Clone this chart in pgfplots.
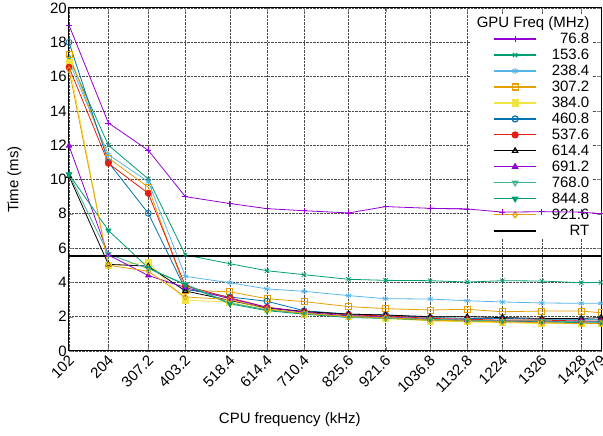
\documentclass[border=0pt]{standalone}
\usepackage{pgfplots}
\pgfplotsset{compat=1.18}
\usetikzlibrary{calc}
\usepackage{fontspec}
\setmainfont{Liberation Sans}
\definecolor{cA}{HTML}{9400D3}
\definecolor{cB}{HTML}{009E73}
\definecolor{cC}{HTML}{56B4E9}
\definecolor{cD}{HTML}{E69F00}
\definecolor{cE}{HTML}{F0E442}
\definecolor{cF}{HTML}{0072B2}
\definecolor{cG}{HTML}{E51E10}
\definecolor{cH}{HTML}{3FB391}
\begin{document}
\begin{tikzpicture}
\begin{axis}[
  name=ax,
  scale only axis,
  width=532pt, height=343pt,
  xmin=102, xmax=1479, ymin=0, ymax=20,
  xtick={102,204,307.2,403.2,518.4,614.4,710.4,825.6,921.6,1036.8,1132.8,1224,1326,1428,1479},
  xticklabels={102,204,307.2,403.2,518.4,614.4,710.4,825.6,921.6,1036.8,1132.8,1224,1326,1428,1479},
  ytick={0,2,...,20},
  font=\fontsize{15}{17}\selectfont,
  /pgf/number format/assume math mode=true,
  xticklabel style={rotate=45, anchor=north east, inner sep=1pt, xshift=-2pt},
  yticklabel style={inner sep=2pt},
  tick align=inside,
  major tick length=4pt,
  axis line style={line width=1pt},
  grid=major,
  major grid style={densely dotted, black!70, line width=0.6pt},
  xlabel={CPU frequency (kHz)},
  ylabel={Time (ms)},
  xlabel style={at={(axis description cs:0.415,0)}, anchor=north, yshift=-58pt},
  ylabel style={at={(axis description cs:0,0.5)}, anchor=south, yshift=44pt},
  every axis plot/.append style={line width=0.8pt, mark size=3pt},
  legend style={at={(1,1)}, anchor=north east, xshift=-9pt, yshift=-6pt,
    draw=none, fill=white, inner sep=1pt,
    font=\fontsize{15}{15}\selectfont, row sep=1pt,
    nodes={inner sep=1.5pt}},
  legend cell align=right,
  legend image code/.code={\path (-0.75cm,0cm); \draw[mark repeat=2,mark phase=2] plot coordinates {(0cm,0cm) (0.75cm,0cm) (1.5cm,0cm)};\path (1.95cm,0cm);},
  legend image post style={line width=1.2pt},
  clip=false,
]
\addlegendimage{empty legend}\addlegendentry{\makebox[0pt][r]{GPU Freq (MHz)}}
\addplot[cA, mark=+] coordinates {(102,19.0)(204,13.3)(307.2,11.7)(403.2,9.0)(518.4,8.6)(614.4,8.3)(710.4,8.18)(825.6,8.05)(921.6,8.42)(1036.8,8.32)(1132.8,8.28)(1224,8.1)(1326,8.12)(1428,8.1)(1479,8.0)};
\addlegendentry{76.8}
\addplot[cB, mark=x] coordinates {(102,17.1)(204,12.0)(307.2,10.03)(403.2,5.6)(518.4,5.09)(614.4,4.68)(710.4,4.45)(825.6,4.18)(921.6,4.12)(1036.8,4.1)(1132.8,4.02)(1224,4.1)(1326,4.08)(1428,3.98)(1479,4.0)};
\addlegendentry{153.6}
\addplot[cC, mark=asterisk] coordinates {(102,16.9)(204,11.45)(307.2,9.87)(403.2,4.35)(518.4,3.98)(614.4,3.62)(710.4,3.48)(825.6,3.23)(921.6,3.05)(1036.8,3.03)(1132.8,2.93)(1224,2.86)(1326,2.8)(1428,2.78)(1479,2.78)};
\addlegendentry{238.4}
\addplot[cD, mark=square] coordinates {(102,17.3)(204,11.25)(307.2,9.55)(403.2,3.55)(518.4,3.45)(614.4,3.05)(710.4,2.88)(825.6,2.59)(921.6,2.47)(1036.8,2.39)(1132.8,2.43)(1224,2.29)(1326,2.33)(1428,2.33)(1479,2.23)};
\addlegendentry{307.2}
\addplot[cE, mark=square*] coordinates {(102,16.8)(204,5.0)(307.2,5.17)(403.2,2.97)(518.4,2.85)(614.4,2.4)(710.4,2.15)(825.6,2.0)(921.6,1.9)(1036.8,1.75)(1132.8,1.7)(1224,1.65)(1326,1.6)(1428,1.6)(1479,1.6)};
\addlegendentry{384.0}
\addplot[cF, mark=o] coordinates {(102,18.0)(204,11.0)(307.2,8.03)(403.2,3.6)(518.4,3.15)(614.4,2.9)(710.4,2.35)(825.6,2.15)(921.6,2.1)(1036.8,1.95)(1132.8,1.9)(1224,1.9)(1326,1.85)(1428,1.85)(1479,1.85)};
\addlegendentry{460.8}
\addplot[cG, mark=*] coordinates {(102,16.55)(204,10.94)(307.2,9.19)(403.2,3.8)(518.4,3.1)(614.4,2.55)(710.4,2.3)(825.6,2.1)(921.6,2.05)(1036.8,1.9)(1132.8,1.85)(1224,1.8)(1326,1.8)(1428,1.75)(1479,1.75)};
\addlegendentry{537.6}
\addplot[black, mark=triangle] coordinates {(102,10.2)(204,5.05)(307.2,4.95)(403.2,3.5)(518.4,2.95)(614.4,2.5)(710.4,2.3)(825.6,2.15)(921.6,2.1)(1036.8,2.0)(1132.8,2.0)(1224,1.95)(1326,1.9)(1428,1.9)(1479,1.95)};
\addlegendentry{614.4}
\addplot[cA, mark=triangle*] coordinates {(102,11.97)(204,5.6)(307.2,4.4)(403.2,3.7)(518.4,3.05)(614.4,2.55)(710.4,2.25)(825.6,2.05)(921.6,2.0)(1036.8,1.85)(1132.8,1.8)(1224,1.75)(1326,1.7)(1428,1.75)(1479,1.7)};
\addlegendentry{691.2}
\addplot[cH, mark=triangle, mark options={rotate=180}] coordinates {(102,10.3)(204,5.65)(307.2,4.8)(403.2,3.9)(518.4,2.8)(614.4,2.4)(710.4,2.2)(825.6,2.0)(921.6,1.95)(1036.8,1.85)(1132.8,1.8)(1224,1.75)(1326,1.75)(1428,1.7)(1479,1.7)};
\addlegendentry{768.0}
\addplot[cB, mark=triangle*, mark options={rotate=180}] coordinates {(102,10.3)(204,7.03)(307.2,4.85)(403.2,3.85)(518.4,2.75)(614.4,2.35)(710.4,2.15)(825.6,1.95)(921.6,1.9)(1036.8,1.8)(1132.8,1.75)(1224,1.7)(1326,1.7)(1428,1.65)(1479,1.65)};
\addlegendentry{844.8}
\addplot[cD, mark=diamond] coordinates {(102,16.4)(204,5.0)(307.2,4.65)(403.2,3.15)(518.4,3.0)(614.4,2.45)(710.4,2.2)(825.6,2.0)(921.6,1.95)(1036.8,1.8)(1132.8,1.75)(1224,1.7)(1326,1.65)(1428,1.6)(1479,1.6)};
\addlegendentry{921.6}
\addplot[black, line width=1.6pt, mark=none, legend image post style={line width=2pt}] coordinates {(102,5.55)(1479,5.55)};
\addlegendentry{RT}
\end{axis}
\begin{axis}[
  scale only axis,
  width=532pt, height=343pt,
  xmin=102, xmax=1479, ymin=0, ymax=20,
  axis lines=none, ticks=none,
  every axis plot/.append style={line width=0.8pt, mark size=3pt},
]
\addplot[cA, mark=+] coordinates {(1036.8,8.32)(1132.8,8.28)(1224,8.1)(1326,8.12)(1428,8.1)(1479,8.0)};
\end{axis}
\pgfresetboundingbox
\path (ax.south west) ++(-69pt,-85pt) rectangle ($(ax.north east)+(2pt,8pt)$);
\end{tikzpicture}
\end{document}
